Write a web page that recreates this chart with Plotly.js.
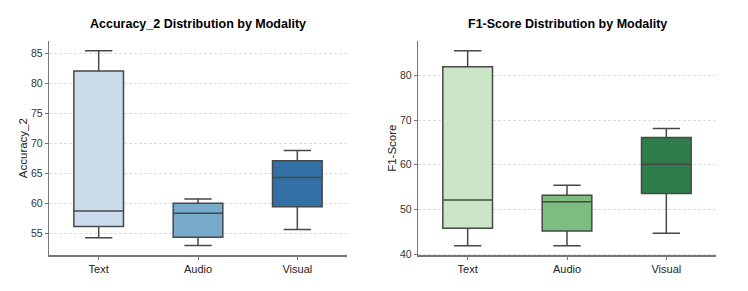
<!DOCTYPE html>
<html>
<head>
<meta charset="utf-8">
<script src="https://cdn.plot.ly/plotly-3.0.1.min.js"></script>
<style>html,body{margin:0;padding:0;background:#fff;}#chart{width:748px;height:291px;}</style>
</head>
<body>
<div id="chart"></div>
<script>
// Data
var categories = ["Text", "Audio", "Visual"];

// Accuracy_2 box statistics
var accLowerWhisker = [54.2, 52.9, 55.6];
var accQ1 = [56.1, 54.3, 59.4];
var accMedian = [58.7, 58.3, 64.3];
var accQ3 = [82.1, 60.0, 67.1];
var accUpperWhisker = [85.5, 60.7, 68.8];

// F1-Score box statistics
var f1LowerWhisker = [41.9, 41.9, 44.7];
var f1Q1 = [45.8, 45.2, 53.6];
var f1Median = [52.1, 51.7, 60.1];
var f1Q3 = [81.9, 53.2, 66.1];
var f1UpperWhisker = [85.5, 55.4, 68.1];

var blues = ["#cadcec", "#78abcb", "#3370a5"];
var greens = ["#cbe6c7", "#7dbd80", "#2e7d4b"];

var traces = [];
function addBoxes(lo, q1, med, q3, hi, colors, xa, ya) {
  for (var i = 0; i < categories.length; i++) {
    traces.push({
      type: "box",
      x: [categories[i]],
      lowerfence: [lo[i]],
      q1: [q1[i]],
      median: [med[i]],
      q3: [q3[i]],
      upperfence: [hi[i]],
      fillcolor: colors[i],
      line: {color: "#474747", width: 1.5},
      width: 0.5,
      whiskerwidth: 0.55,
      boxpoints: false,
      showlegend: false,
      hoverinfo: "skip",
      xaxis: xa,
      yaxis: ya
    });
  }
}
addBoxes(accLowerWhisker, accQ1, accMedian, accQ3, accUpperWhisker, blues, "x", "y");
addBoxes(f1LowerWhisker, f1Q1, f1Median, f1Q3, f1UpperWhisker, greens, "x2", "y2");

var fontFam = "Liberation Sans, Arial, sans-serif";
function xAxis(domain, anchor) {
  return {
    domain: domain, anchor: anchor, type: "category",
    categoryorder: "array", categoryarray: categories,
    range: [-0.5, 2.5],
    showline: true, linecolor: "#777777", linewidth: 1.2,
    ticks: "outside", ticklen: 3, tickcolor: "#777777",
    showgrid: false, zeroline: false,
    tickfont: {family: fontFam, size: 11, color: "#222222"}
  };
}
function yAxis(domain, anchor, range, dtick, title) {
  return {
    domain: domain, anchor: anchor, range: range, dtick: dtick,
    showline: true, linecolor: "#777777", linewidth: 1.2,
    ticks: "outside", ticklen: 3, tickcolor: "#777777",
    showgrid: true, gridcolor: "#d6d6d6", griddash: "3px,2px", gridwidth: 0.8,
    zeroline: false,
    tickfont: {family: fontFam, size: 10.5, color: "#333333"},
    title: {text: title, font: {family: fontFam, size: 11.5, color: "#222222"}, standoff: 1}
  };
}

var yDom = [1 - 255.3 / 291, 1 - 41 / 291];
var layout = {
  width: 748, height: 291,
  margin: {l: 0, r: 0, t: 0, b: 0},
  paper_bgcolor: "#ffffff", plot_bgcolor: "#ffffff",
  boxmode: "overlay",
  showlegend: false,
  xaxis: xAxis([49 / 748, 347 / 748], "y"),
  yaxis: yAxis(yDom, "x", [51.27, 87.13], 5, "Accuracy_2"),
  xaxis2: xAxis([418 / 748, 716 / 748], "y2"),
  yaxis2: yAxis(yDom, "x2", [39.75, 87.68], 10, "F1-Score"),
  annotations: [
    {text: "<b>Accuracy_2 Distribution by Modality</b>", xref: "paper", yref: "paper",
     x: 198 / 748, y: 1 - 24 / 291, xanchor: "center", yanchor: "middle", showarrow: false,
     font: {family: fontFam, size: 12.5, color: "#000000"}},
    {text: "<b>F1-Score Distribution by Modality</b>", xref: "paper", yref: "paper",
     x: 567 / 748, y: 1 - 24 / 291, xanchor: "center", yanchor: "middle", showarrow: false,
     font: {family: fontFam, size: 12.5, color: "#000000"}}
  ]
};

Plotly.newPlot("chart", traces, layout, {staticPlot: true, displayModeBar: false});
</script>
</body>
</html>
